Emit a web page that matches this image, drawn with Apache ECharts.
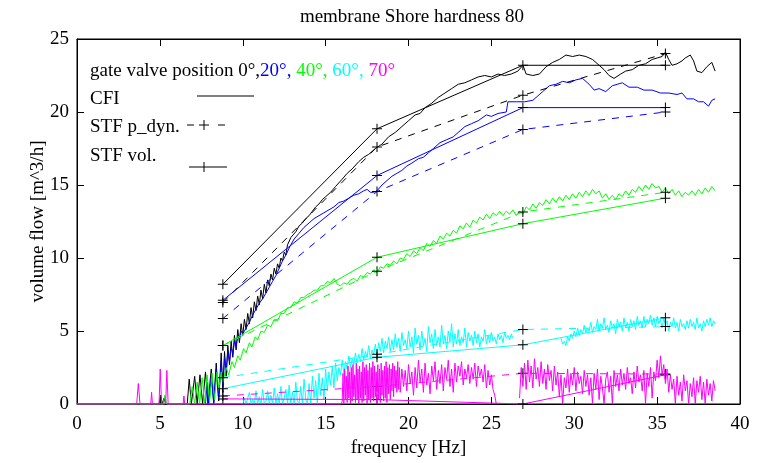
<!DOCTYPE html>
<html><head><meta charset="utf-8">
<script src="https://cdn.jsdelivr.net/npm/echarts@6/dist/echarts.min.js"></script>
<style>html,body{margin:0;padding:0;background:#fff}#c{width:765px;height:463px}</style>
</head><body><div id="c"></div>
<script>
// ---------- DATA ----------
const xTicks = [0,5,10,15,20,25,30,35,40];
const yTicks = [0,5,10,15,20,25];
const angles = ['0°','20°','40°','60°','70°'];

// STF operating frequencies [Hz]
const stfFreq = [8.8, 18.1, 26.9, 35.5];
// STF vol. (solid)
const stfVol0  = [8.2, 18.85, 23.2, 23.2];
const stfVol20 = [7.1, 15.65, 20.3, 20.3];
const stfVol40 = [4.0, 10.05, 12.35, 14.1];
const stfVol60 = [1.05, 3.2, 4.05, 5.9];
const stfVol70 = [0.35, 0.3, 0.0, 2.0];
// STF p_dyn. (dashed)
const stfDyn0  = [6.95, 17.6, 21.15, 24.0];
const stfDyn20 = [5.85, 14.55, 18.8, 20.0];
const stfDyn40 = [4.0, 9.1, 13.15, 14.5];
const stfDyn60 = [1.8, 3.4, 5.1, 5.3];
const stfDyn70 = [0.55, 1.2, 2.1, 2.05];

// CFI traces [frequency, volume flow]
const cfi0 = [[0,0],[4.95,0],[5.05,0.6],[5.15,0],[5.25,0.4],[5.35,0],[6.65,0],[6.77,1.7],[6.9,0],[7.1,1.9],[7.25,0],[7.42,2.0],[7.58,0],[7.75,2.2],[7.9,0],[8.1,2.4],[8.25,0.1],[8.4,2.8],[8.55,0.2],[8.7,3.5],[8.8,0.8],[8.9,3.6],[9.0,1.9],[9.1,4.0],[9.2,2.7],[9.3,4.3],[9.4,3.2],[9.5,4.7],[9.6,3.7],[9.7,5.1],[9.8,4.2],[9.9,5.5],[10.0,4.7],[10.1,5.8],[10.2,5.1],[10.3,6.2],[10.4,5.5],[10.5,6.6],[10.6,5.9],[10.7,7.0],[10.8,6.4],[10.9,7.4],[11.0,6.8],[11.1,7.8],[11.2,7.2],[11.3,8.2],[11.4,7.6],[11.5,8.5],[11.6,8.1],[11.7,8.9],[11.8,8.5],[11.9,9.3],[12.0,8.9],[12.1,9.6],[12.2,9.3],[12.3,10.0],[12.4,9.8],[12.5,10.4],[12.6,10.2],[12.7,10.9],[12.8,11.0],[12.9,11.4],[13.0,11.4],[13.2,11.8],[13.4,12.2],[13.6,12.4],[13.8,12.7],[14.0,12.9],[14.2,13.2],[14.4,13.5],[14.6,13.7],[14.8,14.0],[15.0,14.2],[15.3,14.5],[15.6,14.9],[16.0,15.4],[16.3,15.8],[16.6,16.1],[17.0,16.6],[17.3,16.9],[17.6,17.1],[18.0,17.5],[18.4,17.8],[18.8,18.3],[19.2,18.6],[19.6,19.0],[20.0,19.4],[20.4,19.8],[20.7,19.9],[21.0,20.3],[21.4,20.6],[21.8,21.0],[22.2,21.3],[22.6,21.6],[23.0,21.9],[23.4,22.0],[23.8,22.2],[24.2,22.4],[24.6,22.5],[25.0,22.4],[25.4,22.6],[25.8,22.5],[26.2,22.6],[26.6,22.8],[26.9,23.2],[27.1,22.6],[27.5,22.5],[27.9,22.6],[28.3,23.1],[28.7,23.4],[29.1,23.6],[29.5,23.9],[29.9,23.8],[30.3,23.9],[30.7,23.8],[31.1,23.6],[31.5,23.2],[31.8,22.9],[32.1,22.5],[32.4,22.3],[32.8,22.6],[33.1,22.8],[33.5,22.9],[33.9,23.2],[34.3,23.3],[34.7,23.6],[35.0,23.7],[35.3,23.8],[35.5,24.1],[35.7,23.6],[35.9,23.2],[36.2,23.3],[36.5,23.5],[36.7,23.7],[37.0,23.9],[37.2,23.5],[37.4,22.8],[37.7,22.7],[38.0,23.1],[38.3,23.4],[38.5,22.8]];

const cfi20 = [[7.75,0],[7.85,1.5],[7.95,0],[8.1,1.9],[8.25,0],[8.4,2.4],[8.55,0.3],[8.7,2.9],[8.8,1.2],[8.9,3.2],[9.0,2.2],[9.1,3.6],[9.2,2.9],[9.3,3.9],[9.4,3.4],[9.5,4.3],[9.6,3.9],[9.7,4.7],[9.8,4.4],[9.9,5.0],[10.0,4.8],[10.2,5.2],[10.4,5.6],[10.6,6.1],[10.8,6.5],[11.0,6.9],[11.2,7.2],[11.4,7.6],[11.6,8.0],[11.8,8.4],[12.0,8.8],[12.2,9.3],[12.4,9.8],[12.6,10.2],[12.85,10.8],[13.1,11.3],[13.4,11.7],[13.7,12.1],[14.0,12.4],[14.3,12.7],[14.6,12.9],[14.9,13.1],[15.2,13.3],[15.5,13.5],[15.8,13.8],[16.1,13.9],[16.4,14.1],[16.7,14.3],[17.0,14.4],[17.3,14.6],[17.5,14.7],[17.7,14.5],[17.9,14.5],[18.1,14.6],[18.4,15.0],[18.7,15.3],[19.0,15.6],[19.3,15.8],[19.6,16.0],[19.9,16.3],[20.2,16.5],[20.6,16.8],[20.9,16.9],[21.2,17.2],[21.5,17.5],[21.9,17.9],[22.3,18.1],[22.7,18.3],[23.0,18.6],[23.4,19.0],[23.8,19.2],[24.2,19.4],[24.7,19.8],[25.0,19.7],[25.4,19.9],[25.9,20.0],[26.0,20.7],[26.5,20.7],[27.0,20.7],[27.5,20.8],[27.8,21.1],[28.1,21.4],[28.5,21.8],[28.9,21.9],[29.3,22.1],[29.7,22.0],[30.1,22.2],[30.5,22.3],[30.9,21.9],[31.2,21.5],[31.5,21.6],[31.9,21.4],[32.3,21.8],[32.6,21.9],[32.9,22.0],[33.3,21.7],[33.8,21.7],[34.2,21.5],[34.7,21.5],[35.2,21.3],[35.7,21.3],[36.2,21.2],[36.5,21.3],[36.8,20.9],[37.2,20.9],[37.5,20.7],[37.8,20.7],[38.1,20.4],[38.3,20.8],[38.5,20.9]];

const cfi40 = [[0,0],[5.2,0],[5.3,0.6],[5.4,0],[6.8,0],[6.95,1.2],[7.1,0],[7.25,1.5],[7.4,0],[7.55,1.8],[7.7,0],[7.85,2.0],[8.0,0.1],[8.15,2.1],[8.3,0.3],[8.45,2.2],[8.55,1.0],[8.7,2.2],[8.8,1.5],[9.0,2.5],[9.15,2.0],[9.35,2.9],[9.5,2.5],[9.7,3.3],[9.85,3.0],[10.05,3.8],[10.2,3.5],[10.4,4.2],[10.55,3.9],[10.75,4.6],[10.9,4.4],[11.1,5.0],[11.3,4.9],[11.5,5.4],[11.7,5.3],[11.9,5.8],[12.1,5.7],[12.3,6.2],[12.5,6.2],[12.7,6.6],[12.9,6.6],[13.1,7.0],[13.3,6.9],[13.5,7.3],[13.7,7.3],[13.9,7.5],[14.1,7.6],[14.3,7.8],[14.5,7.8],[14.7,8.1],[14.9,8.1],[15.1,8.4],[15.3,8.3],[15.5,8.6],[15.7,8.2],[15.9,8.1],[16.1,8.3],[16.3,8.2],[16.5,8.5],[16.7,8.6],[16.9,8.4],[17.1,8.8],[17.3,8.7],[17.5,9.0],[17.7,8.9],[17.9,9.2],[18.1,9.0],[18.3,9.4],[18.5,9.3],[18.7,9.6],[18.9,9.5],[19.1,9.8],[19.3,9.6],[19.5,10.0],[19.7,9.9],[19.9,10.3],[20.1,10.1],[20.3,10.5],[20.5,10.3],[20.7,10.7],[20.9,10.5],[21.1,11.0],[21.3,10.8],[21.5,11.2],[21.7,11.0],[21.9,11.5],[22.1,11.3],[22.3,11.7],[22.5,11.5],[22.7,11.9],[22.9,11.7],[23.1,12.2],[23.3,12.0],[23.5,12.4],[23.7,12.1],[23.9,12.6],[24.1,12.4],[24.3,12.8],[24.5,12.6],[24.7,13.0],[24.9,12.7],[25.1,13.1],[25.3,12.9],[25.5,13.2],[25.7,12.9],[25.9,13.2],[26.1,13.0],[26.3,13.3],[26.5,12.9],[26.7,13.2],[26.9,13.0],[27.1,13.5],[27.3,13.3],[27.5,13.7],[27.7,13.4],[27.9,13.8],[28.1,13.6],[28.3,14.0],[28.5,13.7],[28.7,14.1],[28.9,13.8],[29.1,14.2],[29.3,13.9],[29.5,14.3],[29.7,14.0],[29.9,14.4],[30.1,14.1],[30.3,14.5],[30.5,14.2],[30.7,14.6],[30.9,14.3],[31.1,14.7],[31.3,14.4],[31.5,14.6],[31.7,14.1],[31.9,14.4],[32.1,14.0],[32.3,14.3],[32.5,14.0],[32.7,14.4],[32.9,14.2],[33.1,14.6],[33.3,14.3],[33.5,14.7],[33.7,14.5],[33.9,14.9],[34.1,14.6],[34.3,15.0],[34.5,14.7],[34.7,15.1],[34.9,14.8],[35.1,14.9],[35.3,14.5],[35.5,14.8],[35.7,14.4],[35.9,14.7],[36.1,14.3],[36.3,14.6],[36.5,14.2],[36.7,14.5],[36.9,14.3],[37.1,14.6],[37.3,14.3],[37.5,14.7],[37.7,14.4],[37.9,14.8],[38.1,14.5],[38.3,14.9],[38.5,14.6]];

// 60° trace, sampled every 0.1 Hz (two segments)
const cfi60aStart = 10.0;
const cfi60a = [0,0.4,0,0,0.8,0,0.3,0,0.9,0,
 0.5,0,1.0,0,0.2,0.9,0,0.6,0,1.1,
 0,0.7,0,1.2,0,0.4,1.0,0,1.3,0,
 0.8,0,1.5,0.2,0,1.2,0,1.7,0.3,0,
 1.4,0,1.9,0.4,1.6,0,2.1,0.6,1.8,0.3,
 2.4,0.9,2.2,1.3,2.6,1.1,2.8,1.6,2.5,2.0,
 3.0,2.1,2.9,2.4,3.3,2.5,3.1,2.7,3.5,2.8,
 3.4,2.9,3.8,3.0,3.6,3.2,4.0,3.1,3.7,3.4,
 4.1,3.3,4.2,3.6,4.5,3.5,4.3,3.8,4.6,3.6,
 4.4,3.7,4.8,3.9,4.5,3.6,4.9,4.0,4.4,3.8,
 5.0,3.9,4.6,3.5,5.2,4.1,4.7,3.7,5.0,4.0,
 4.5,3.6,5.3,4.2,4.8,3.8,5.1,4.0,4.6,3.9,
 5.4,4.1,4.7,3.8,5.0,4.3,5.5,3.9,4.8,4.1,
 5.1,4.0,4.6,4.2,5.2,3.9,4.9,4.3,4.7,4.0,
 5.0,4.2,4.8,3.9,4.6,4.3,5.1,4.1,4.7,4.2,
 4.9,4.3,4.6,4.1,4.8,4.4,4.7,4.2,4.9,4.5,
 4.7,4.4,4.8,4.5];
const cfi60bStart = 29.2;
const cfi60b = [4.5,4.1,4.3,4.0,4.6,4.3,4.8,4.5,
 5.0,4.6,5.2,4.7,5.1,4.8,5.4,4.9,5.2,5.0,
 5.6,4.9,5.3,5.1,5.8,5.0,5.5,5.2,5.9,5.1,
 5.4,4.9,5.7,5.2,5.5,4.8,5.8,5.3,5.6,5.0,
 5.9,5.2,5.6,5.0,5.8,5.3,5.7,5.1,6.0,5.4,
 5.7,5.2,6.0,5.3,5.8,5.5,6.1,5.4,5.9,5.3,
 6.0,5.5,5.8,5.2,5.9,5.4,5.7,5.0,5.6,5.3,
 5.9,5.2,5.6,5.0,5.8,5.3,5.5,5.1,5.7,5.2,
 5.8,5.3,5.6,5.1,5.9,5.2,5.5,5.0,5.7,5.3,
 5.8,5.4,5.9,5.3,5.7,5.5];

// 70° trace
const cfi70low = [[0,0],[3.6,0],[3.7,1.4],[3.8,0],[4.45,0],[4.5,0.8],[4.55,0],[4.95,0],[5.02,2.4],[5.1,0],[5.35,0],[5.42,2.3],[5.5,0],[6.4,0],[6.45,0.55],[6.5,0],[15.95,0]];
// dense part, sampled every 0.05 Hz
const cfi70denseStart = 16.0;
const cfi70dense = [0.2,2.1,0.0,2.4,0.3,1.9,0.1,2.6,0.4,2.2,
 0.0,2.5,0.2,2.7,0.5,2.0,0.1,2.8,0.3,2.4,
 0.0,2.6,0.4,2.2,0.1,2.9,0.2,2.5,0.6,2.7,
 0.0,2.3,0.3,2.8,0.1,2.5,0.4,2.9,0.2,2.6,
 0.5,2.2,0.0,2.7,0.3,2.4,0.1,2.8,0.6,2.3,
 0.2,2.6,0.4,2.9,0.1,2.5,0.7,2.7,0.3,2.4,
 0.9,2.8,0.5,2.6,1.1,2.3,0.8,2.9,1.0,2.5];
// remaining parts, sampled every 0.1 Hz
const cfi70aStart = 19.5;
const cfi70a = [0.8,2.4,1.2,2.3,0.9,
 2.7,1.4,2.2,0.6,2.5,1.1,3.0,1.5,2.4,0.8,
 2.8,1.3,2.1,0.7,2.6,1.6,2.9,1.0,2.3,1.4,
 2.7,0.9,2.5,1.7,3.0,1.2,2.4,0.8,2.8,1.5,
 2.6,1.9,2.9,1.3,2.4,1.8,2.7,1.4,2.5,1.7,
 2.8,1.2,2.6,1.9,2.4,1.5,2.7,1.1,2.3,1.3,
 2.0,1.0,0.6,0.0];
const cfi70bStart = 26.7;
const cfi70b = [0.4,2.5,1.2,
 2.8,1.0,3.0,1.5,2.6,1.1,3.1,1.7,2.5,1.2,
 2.9,1.4,2.4,1.0,2.7,1.6,2.3,0.9,2.6,1.3,
 2.2,0.5,2.0,0.0,1.8,1.1,2.4,0.8,2.1,1.3,
 2.5,0.9,2.2,1.4,1.9,0.7,2.3,1.2,2.0,0.6,
 1.8,0.0,2.1,1.0,2.4,0.3,1.9,1.1,0.0,1.7,
 2.2,0.8,1.9,0.0,2.3,1.2,2.0,0.9,2.4,1.3,
 2.1,1.0,2.5,1.4,1.8,0.7,2.2,1.1,2.6,1.5,
 2.0,0.9,2.3,0.0,2.1,1.2,2.5,0.4,2.2,1.6,
 3.0,1.8,3.3,2.0,2.7,1.4,2.4,0.8,2.0,1.0,
 1.7,0.0,1.9,0.6,1.5,0.2,2.0,0.9,1.6,0.0,
 1.4,0.5,1.8,0.0,1.6,0.8,1.9,0.3,1.5,0.0,
 1.7,0.6,1.4,0.2,1.6,0.9];

// ---------- CHART ----------
const FONT = '"Liberation Serif", "Times New Roman", serif';
const COL = {k:'#000000', b:'#0000ff', g:'#00ff00', c:'#00ffff', m:'#ff00ff'};
const PLUS = 'path://M0,4.5H10V5.5H0Z M4.5,0H5.5V10H4.5Z';

function sampled(start, step, vals){ return vals.map((v,i)=>[+(start + i*step).toFixed(3), v]); }
function trace(data, color, z){
  return {type:'line', data, showSymbol:false, symbol:'none', animation:false, silent:true, clip:false,
    lineStyle:{color, width:1}, itemStyle:{color}, emphasis:{disabled:true}, z: z || 2};
}
function stf(vals, color, dashed){
  return {type:'line', data: stfFreq.map((f,i)=>[f, vals[i]]), symbol:PLUS, symbolSize:10, showSymbol:true,
    animation:false, silent:true, clip:false, itemStyle:{color:'#000'},
    lineStyle:{color, width:1, type: dashed ? [7,7] : 'solid'}, emphasis:{disabled:true}, z:3};
}

const series = [
  trace(cfi0, COL.k), stf(stfDyn0, COL.k, true), stf(stfVol0, COL.k, false),
  trace(cfi20, COL.b), stf(stfDyn20, COL.b, true), stf(stfVol20, COL.b, false),
  trace(cfi40, COL.g), stf(stfDyn40, COL.g, true), stf(stfVol40, COL.g, false),
  trace(sampled(cfi60aStart, 0.1, cfi60a), COL.c), trace(sampled(cfi60bStart, 0.1, cfi60b), COL.c),
  stf(stfDyn60, COL.c, true), stf(stfVol60, COL.c, false),
  stf(stfDyn70, COL.m, true), stf(stfVol70, COL.m, false),
  trace(cfi70low.concat(sampled(cfi70denseStart, 0.05, cfi70dense), sampled(cfi70aStart, 0.1, cfi70a)), COL.m, 4),
  trace(sampled(cfi70bStart, 0.1, cfi70b), COL.m, 4)
];

const axisCommon = {
  type:'value', splitLine:{show:false},
  axisLine:{show:true, onZero:false, lineStyle:{color:'#000', width:1}},
  axisTick:{show:true, inside:true, length:7, lineStyle:{color:'#000'}},
  axisLabel:{color:'#000', fontFamily:FONT, fontSize:19}
};

const chart = echarts.init(document.getElementById('c'), null, {renderer:'canvas'});
chart.setOption({
  backgroundColor:'#fff',
  animation:false,
  grid:{left:77, right:25, top:39, bottom:58, show:true, borderColor:'#000', borderWidth:1, backgroundColor:'transparent'},
  xAxis:[
    Object.assign({}, axisCommon, {position:'bottom', min:xTicks[0], max:xTicks[xTicks.length-1], interval:5,
      axisLabel:Object.assign({}, axisCommon.axisLabel, {margin:11}),
      name:'frequency [Hz]', nameLocation:'middle', nameGap:35, nameMoveOverlap:false,
      nameTextStyle:{color:'#000', fontFamily:FONT, fontSize:19}}),
    Object.assign({}, axisCommon, {position:'top', min:xTicks[0], max:xTicks[xTicks.length-1], interval:5,
      axisLabel:{show:false}})
  ],
  yAxis:[
    Object.assign({}, axisCommon, {position:'left', min:yTicks[0], max:yTicks[yTicks.length-1], interval:5,
      axisLabel:Object.assign({}, axisCommon.axisLabel, {margin:8}),
      name:'volume flow [m^3/h]', nameLocation:'middle', nameGap:29, nameRotate:90, nameMoveOverlap:false,
      nameTextStyle:{color:'#000', fontFamily:FONT, fontSize:19}}),
    Object.assign({}, axisCommon, {position:'right', min:yTicks[0], max:yTicks[yTicks.length-1], interval:5,
      axisLabel:{show:false}})
  ],
  series,
  graphic:[
    {type:'text', x:412, y:8, style:{text:'membrane Shore hardness 80', font:'19px ' + FONT, fill:'#000', textAlign:'center'}},
    {type:'text', x:90, y:62, style:{
      text:'{k|gate valve position ' + angles[0] + ',}{b|' + angles[1] + ',}{g| ' + angles[2] + ',}{c| ' + angles[3] + ',}{m| ' + angles[4] + '}',
      font:'19px ' + FONT,
      rich:{
        k:{fill:COL.k, fontFamily:FONT, fontSize:19},
        b:{fill:COL.b, fontFamily:FONT, fontSize:19},
        g:{fill:COL.g, fontFamily:FONT, fontSize:19},
        c:{fill:COL.c, fontFamily:FONT, fontSize:19},
        m:{fill:COL.m, fontFamily:FONT, fontSize:19}
      }}},
    {type:'text', x:90, y:90, style:{text:'CFI', font:'19px ' + FONT, fill:'#000'}},
    {type:'line', shape:{x1:197, y1:96, x2:254, y2:96}, style:{stroke:'#000', lineWidth:1}},
    {type:'text', x:90, y:118, style:{text:'STF p_dyn.', font:'19px ' + FONT, fill:'#000'}},
    {type:'line', shape:{x1:187, y1:125, x2:194, y2:125}, style:{stroke:'#000', lineWidth:1}},
    {type:'line', shape:{x1:218, y1:125, x2:225, y2:125}, style:{stroke:'#000', lineWidth:1}},
    {type:'line', shape:{x1:199, y1:125, x2:209, y2:125}, style:{stroke:'#000', lineWidth:1}},
    {type:'line', shape:{x1:204, y1:120, x2:204, y2:130}, style:{stroke:'#000', lineWidth:1}},
    {type:'text', x:90, y:147, style:{text:'STF vol.', font:'19px ' + FONT, fill:'#000'}},
    {type:'line', shape:{x1:189, y1:167, x2:227, y2:167}, style:{stroke:'#000', lineWidth:1}},
    {type:'line', shape:{x1:204, y1:162, x2:204, y2:172}, style:{stroke:'#000', lineWidth:1}}
  ]
});
</script>
</body></html>
